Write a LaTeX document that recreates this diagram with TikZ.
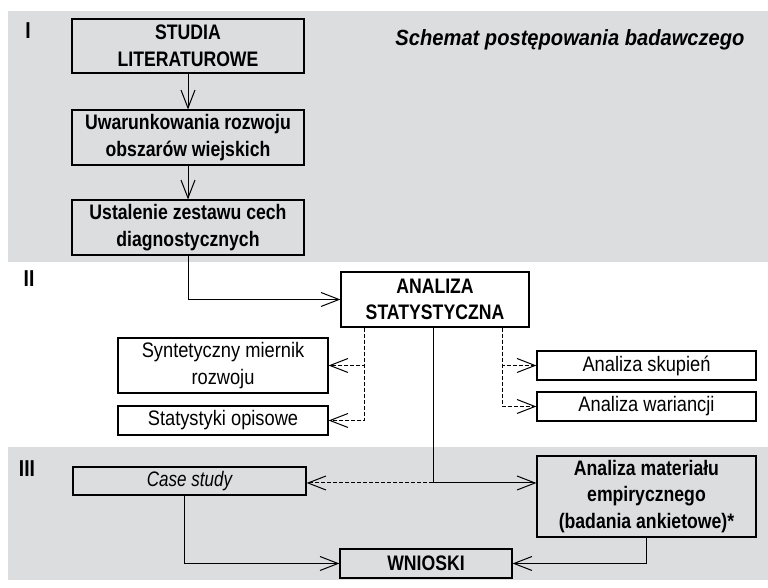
\documentclass[tikz,border=0pt]{standalone}
\usepackage{fontspec}
\setmainfont{Liberation Sans}[
    FakeStretch=0.87,
    BoldFeatures={FakeStretch=0.84},
    ItalicFeatures={FakeStretch=0.81},
    BoldItalicFeatures={FakeStretch=0.915}]
\usetikzlibrary{calc, arrows.meta}

\definecolor{bandgray}{RGB}{220,221,223}

\begin{document}
\begin{tikzpicture}[x=.5pt, y=-.5pt]
    \tikzstyle{box} = [rectangle, draw, line width=.6pt, align=center, inner sep=0pt,
        font=\fontsize{10.5}{13.3}\selectfont]
    \tikzstyle{greybox} = [box, fill=bandgray]
    \tikzstyle{whitebox} = [box, fill=white]
    \tikzstyle{boldtext} = [font=\fontsize{10.5}{13.3}\selectfont\bfseries]
    \tikzstyle{flow} = [line width=.5pt, -{Straight Barb[length=9pt, width=7pt]}]
    \tikzstyle{aux} = [flow, dash pattern=on 2pt off 1pt]
    \tikzstyle{stage} = [font=\fontsize{11.5}{13}\selectfont\bfseries]

    \useasboundingbox (0, 0) rectangle (768, 588);

    % Bands ----------------------------------------
    \fill[bandgray] (8, 11) rectangle (768, 262);
    \fill[bandgray] (8, 447) rectangle (768, 580);
    \node[stage] (I) at (28, 31) {I};
    \node[stage] (II) at (29, 279) {II};
    \node[stage] (III) at (27, 469) {III};
    \node[font=\fontsize{11}{13}\selectfont\bfseries\itshape] (title) at (570, 40)
        {Schemat postępowania badawczego};

    % Stage I ----------------------------------------
    \node[greybox, boldtext, minimum width=116pt, minimum height=27pt] (studia) at (188, 46)
        {STUDIA\\LITERATUROWE};
    \node[greybox, boldtext, minimum width=116pt, minimum height=27.5pt] (warunki) at ($(studia) + (0, 91.5)$)
        {Uwarunkowania rozwoju\\obszarów wiejskich};
    \node[greybox, boldtext, minimum width=116pt, minimum height=27.5pt] (cechy) at ($(warunki) + (0, 90)$)
        {Ustalenie zestawu cech\\diagnostycznych};

    % Stage II ---------------------------------------
    \node[whitebox, boldtext, minimum width=94pt, minimum height=27.5pt] (analiza) at (435, 299.5)
        {ANALIZA\\STATYSTYCZNA};
    \node[whitebox, minimum width=105pt, minimum height=27.5pt] (miernik) at (223, 365.5)
        {Syntetyczny miernik\\rozwoju};
    \node[whitebox, minimum width=105pt, minimum height=14.5pt] (opisowe) at ($(miernik) + (0, 55)$)
        {Statystyki opisowe};
    \node[whitebox, minimum width=109.5pt, minimum height=14.5pt] (skupienia) at (646.5, 365.5)
        {Analiza skupień};
    \node[whitebox, minimum width=109.5pt, minimum height=14.5pt] (wariancja) at ($(skupienia) + (0, 41)$)
        {Analiza wariancji};

    % Stage III --------------------------------------
    \node[greybox, minimum width=116.5pt, minimum height=14pt, font=\fontsize{10.5}{13}\selectfont\itshape] (casestudy) at (189.5, 481)
        {Case study};
    \node[greybox, boldtext, minimum width=109.5pt, minimum height=40.5pt] (material) at (646.5, 496.5)
        {Analiza materiału\\empirycznego\\(badania ankietowe)*};
    \node[greybox, boldtext, minimum width=86pt, minimum height=14.5pt] (wnioski) at (426, 563.5)
        {WNIOSKI};

    % Connectors -------------------------------------
    \draw[flow] (studia) -- (warunki);
    \draw[flow] (warunki) -- (cechy);
    \draw[flow] (cechy.south) |- (analiza.west);

    \coordinate (left_split) at ($(analiza.south west) + (24, 0)$);
    \coordinate (right_split) at ($(analiza.south east) + (-27, 0)$);
    \draw[aux] (left_split) |- (miernik.east);
    \draw[aux] (left_split) |- (opisowe.east);
    \draw[aux] (right_split) |- (skupienia.west);
    \draw[aux] (right_split) |- (wariancja.west);

    \coordinate (junction) at ($(analiza.south |- casestudy.east) + (-2, 2)$);
    \draw[line width=.5pt] ($(analiza.south) + (-2, 0)$) -- (junction);
    \draw[flow] (junction) -- (junction -| material.west);
    \draw[aux] (junction) -- (casestudy.east |- junction);
    \draw[flow] ($(casestudy.south) + (-5, 0)$) |- (wnioski.west);
    \draw[flow] (material.south) |- (wnioski.east);
\end{tikzpicture}
\end{document}
